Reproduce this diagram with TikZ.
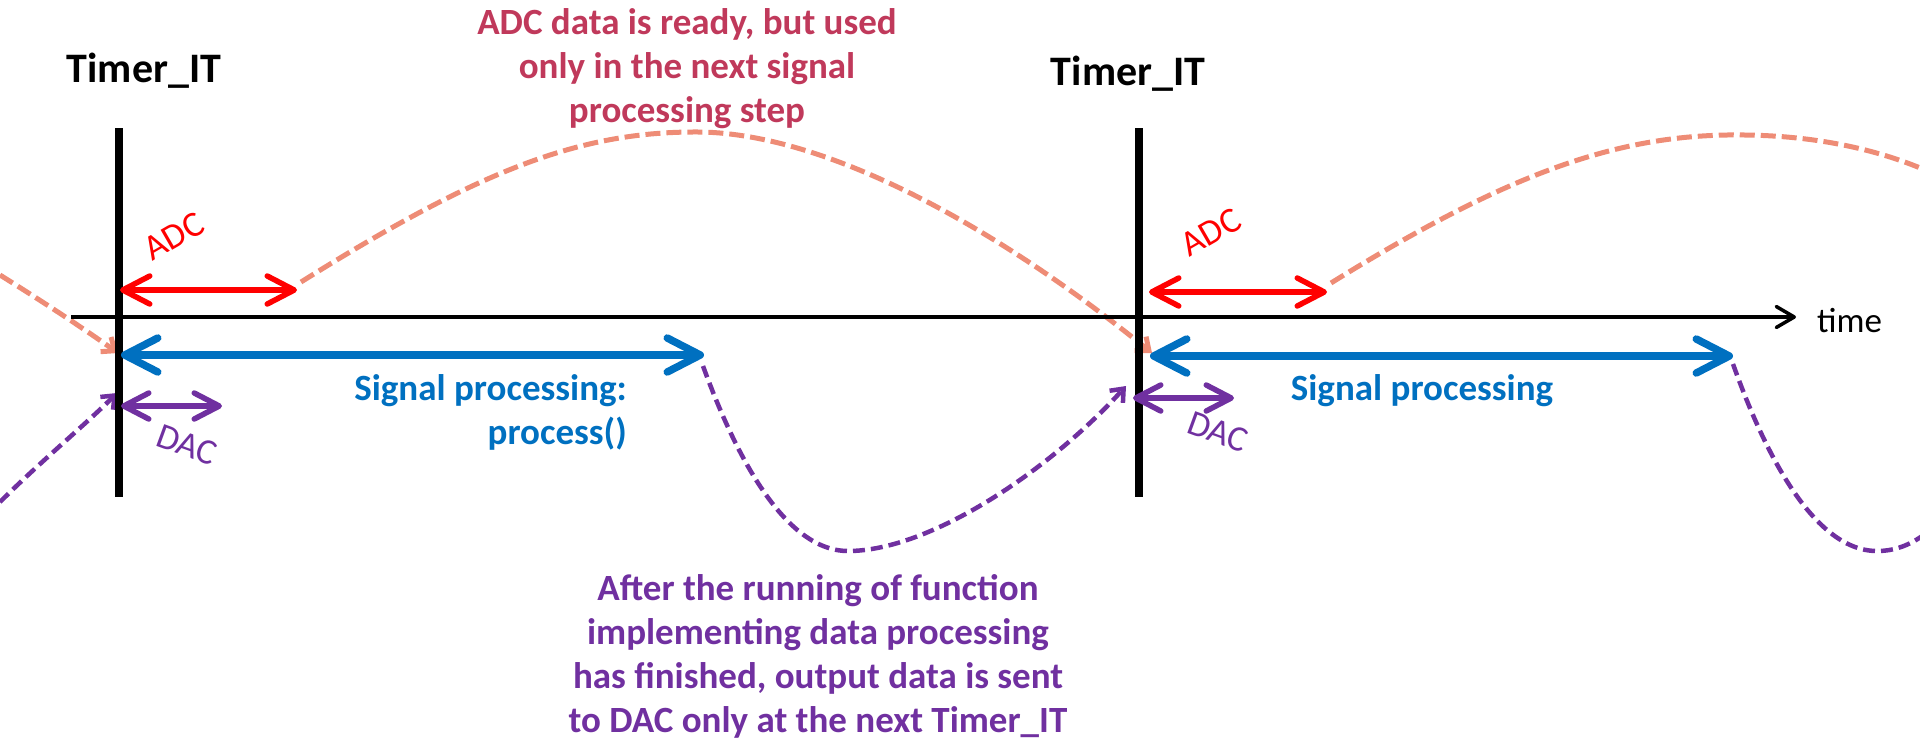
\documentclass[tikz,border=0pt]{standalone}
\usepackage{fontspec}
\setmainfont{Carlito}
\usetikzlibrary{arrows.meta}
\definecolor{adcred}{RGB}{255,0,0}
\definecolor{sigblue}{RGB}{0,112,192}
\definecolor{dacpurple}{RGB}{112,48,160}
\definecolor{salmonc}{RGB}{238,140,118}
\definecolor{crimsonc}{RGB}{192,57,91}
\begin{document}
\begin{tikzpicture}[x=1pt,y=-1pt,
  tline/.style={line width=8pt},
  axisline/.style={line width=3.5pt,-{Straight Barb[length=18pt,width=21pt,round]}},
  adcarrow/.style={adcred,line width=5.5pt,{Straight Barb[length=27pt,width=28pt,round]}-{Straight Barb[length=27pt,width=28pt,round]}},
  sigarrow/.style={sigblue,line width=7.5pt,{Straight Barb[length=33pt,width=34pt,round]}-{Straight Barb[length=33pt,width=34pt,round]}},
  dacarrow/.style={dacpurple,line width=5.5pt,{Straight Barb[length=25pt,width=26pt,round]}-{Straight Barb[length=25pt,width=26pt,round]}},
  salmonline/.style={salmonc,line width=5pt,dash pattern=on 15pt off 6pt},
  purpleline/.style={dacpurple,line width=4.5pt,dash pattern=on 12pt off 6pt},
  smalltip/.style={-{Straight Barb[length=11pt,width=18pt]}},
  txt/.style={inner sep=0pt},
  bigbold/.style={font=\bfseries\fontsize{37}{44}\selectfont},
  smalllabel/.style={txt,font=\fontsize{36}{42}\selectfont},
]
\useasboundingbox (0,0) rectangle (1920,740);

% coordinates
\coordinate (t1top) at (119,128); \coordinate (t1bot) at (119,497);
\coordinate (t2top) at (1139,128); \coordinate (t2bot) at (1139,497);
\coordinate (axL) at (71,317); \coordinate (axR) at (1796,317);
\coordinate (adcA1) at (120,290); \coordinate (adcB1) at (297,290);
\coordinate (sigA1) at (121,355); \coordinate (sigB1) at (704,355);
\coordinate (dacA1) at (121,406); \coordinate (dacB1) at (222,406);
\coordinate (adcA2) at (1149,292); \coordinate (adcB2) at (1327,292);
\coordinate (sigA2) at (1150,356); \coordinate (sigB2) at (1733,356);
\coordinate (dacA2) at (1133,398); \coordinate (dacB2) at (1234,398);
\coordinate (sIn0) at (0,275); \coordinate (sTip1) at (118,353);
\coordinate (sOut1) at (301,282); \coordinate (sPeak1) at (700,132); \coordinate (sTip2) at (1152,353);
\coordinate (sOut2) at (1331,283); \coordinate (sPeak2) at (1745,135); \coordinate (sEnd) at (1925,170);
\coordinate (pIn0) at (0,502); \coordinate (pTip1) at (117,393);
\coordinate (pOut1) at (703,366); \coordinate (pMin1) at (848,551); \coordinate (pTip2) at (1126,386);
\coordinate (pOut2) at (1733,364); \coordinate (pMin2) at (1877,551); \coordinate (pEnd) at (1925,534);

% dashed curves
\draw[salmonline,smalltip] (sIn0) .. controls (40,300) and (80,326) .. (sTip1);
\draw[salmonline,smalltip] (sOut1) .. controls (480,170) and (580,131) .. (sPeak1)
   .. controls (830,134) and (1000,230) .. (sTip2);
\draw[salmonline] (sOut2) .. controls (1510,172) and (1620,133) .. (sPeak2)
   .. controls (1830,136) and (1890,155) .. (sEnd);
\draw[purpleline,smalltip] (pIn0) .. controls (40,462) and (85,425) .. (pTip1);
\draw[purpleline,smalltip] (pOut1) .. controls (730,440) and (780,551) .. (pMin1)
   .. controls (930,551) and (1050,470) .. (pTip2);
\draw[purpleline] (pOut2) .. controls (1760,440) and (1810,551) .. (pMin2)
   .. controls (1895,551) and (1910,545) .. (pEnd);

% axis and timer lines
\draw[axisline] (axL) -- (axR);
\draw[tline] (t1top) -- (t1bot);
\draw[tline] (t2top) -- (t2bot);

% arrows
\draw[adcarrow] (adcA1) -- (adcB1);
\draw[sigarrow] (sigA1) -- (sigB1);
\draw[dacarrow] (dacA1) -- (dacB1);
\draw[adcarrow] (adcA2) -- (adcB2);
\draw[sigarrow] (sigA2) -- (sigB2);
\draw[dacarrow] (dacA2) -- (dacB2);

% texts
\node[txt,anchor=base,font=\bfseries\fontsize{42}{50}\selectfont] (tit1) at (144,82) {Timer\_IT};
\node[txt,anchor=base,font=\bfseries\fontsize{42}{50}\selectfont] (tit2) at (1128,85) {Timer\_IT};
\node[txt,bigbold,crimsonc,align=center,anchor=base] (note1) at (687,122)
  {ADC data is ready, but used\\only in the next signal\\processing step};
\node[txt,bigbold,sigblue,align=right,anchor=base east] (sp1) at (627,444)
  {Signal processing:\\process()};
\node[txt,bigbold,sigblue,anchor=base] (sp2) at (1422,400) {Signal processing};
\node[txt,bigbold,dacpurple,align=center,anchor=base] (note2) at (818,732)
  {After the running of function\\implementing data processing\\has finished, output data is sent\\to DAC only at the next Timer\_IT};
\node[txt,anchor=base west,font=\fontsize{35}{42}\selectfont] (time) at (1817,332) {time};
\node[smalllabel,adcred,rotate=30] (adcl1) at (174,236) {ADC};
\node[smalllabel,adcred,rotate=30] (adcl2) at (1211,232) {ADC};
\node[smalllabel,dacpurple,rotate=-20] (dacl1) at (187,445) {DAC};
\node[smalllabel,dacpurple,rotate=-20] (dacl2) at (1218,432) {DAC};
\end{tikzpicture}
\end{document}
